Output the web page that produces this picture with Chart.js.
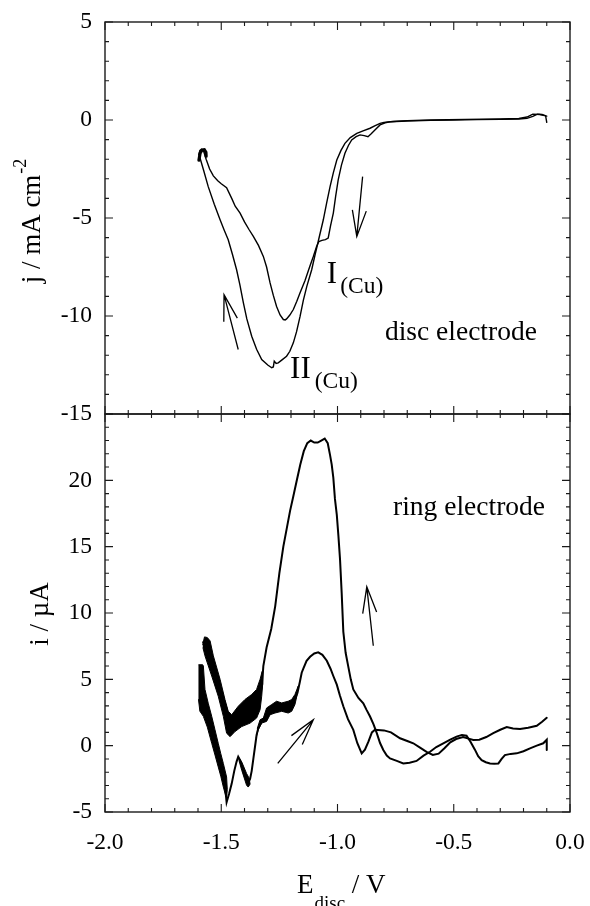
<!DOCTYPE html>
<html>
<head>
<meta charset="utf-8">
<script src="https://cdn.jsdelivr.net/npm/chart.js@4.4.1/dist/chart.umd.min.js"></script>
<style>
  html, body { margin: 0; padding: 0; background: #fff; }
  #wrap { position: relative; width: 590px; height: 906px; overflow: hidden; }
  canvas { position: absolute; left: 0; }
  #disc { top: 0; z-index: 2; }
  #ring { top: 400px; z-index: 1; }
</style>
</head>
<body>
<div id="wrap">
  <canvas id="disc" width="590" height="430"></canvas>
  <canvas id="ring" width="590" height="506"></canvas>
</div>
<script>
// ---- disc electrode, j / mA cm-2 ----
// cathodic sweep, -0.1 V down to -1.6 V
const discCathE = [-0.100, -0.110, -0.130, -0.160, -0.185, -0.220, -0.300, -0.450, -0.600, -0.700, -0.760, -0.800, -0.817, -0.840, -0.860, -0.890, -0.917, -0.945, -0.968, -0.985, -1.003, -1.018, -1.032, -1.047, -1.061, -1.083, -1.097, -1.111, -1.132, -1.147, -1.161, -1.176, -1.190, -1.205, -1.219, -1.240, -1.255, -1.264, -1.272, -1.276, -1.283, -1.300, -1.326, -1.348, -1.369, -1.390, -1.405, -1.420, -1.434, -1.452, -1.470, -1.488, -1.505, -1.530, -1.556, -1.575, -1.591, -1.596];
const discCathJ = [0.20, 0.22, 0.28, 0.30, 0.15, 0.08, 0.05, 0.03, 0.00, -0.03, -0.08, -0.12, -0.17, -0.30, -0.42, -0.55, -0.68, -0.90, -1.19, -1.55, -2.04, -2.70, -3.40, -4.25, -5.09, -6.20, -6.90, -7.64, -8.49, -9.20, -10.02, -10.80, -11.37, -11.80, -12.05, -12.25, -12.39, -12.42, -12.30, -12.60, -12.64, -12.50, -12.22, -11.70, -11.03, -10.15, -9.32, -8.40, -7.64, -6.85, -6.11, -5.60, -5.09, -4.30, -3.40, -2.60, -1.95, -1.75];
// anodic return sweep, -1.6 V back to -0.1 V
const discAnodE = [-1.596, -1.592, -1.585, -1.575, -1.565, -1.550, -1.534, -1.515, -1.500, -1.477, -1.455, -1.440, -1.419, -1.400, -1.380, -1.362, -1.340, -1.319, -1.305, -1.290, -1.276, -1.262, -1.247, -1.233, -1.225, -1.219, -1.205, -1.190, -1.175, -1.161, -1.140, -1.120, -1.104, -1.090, -1.080, -1.067, -1.052, -1.040, -1.030, -1.018, -1.008, -0.997, -0.983, -0.968, -0.953, -0.939, -0.920, -0.903, -0.885, -0.869, -0.855, -0.839, -0.817, -0.795, -0.774, -0.700, -0.600, -0.500, -0.400, -0.300, -0.220, -0.185, -0.160, -0.140, -0.120, -0.105, -0.100];
const discAnodJ = [-1.75, -1.55, -1.50, -1.62, -2.00, -2.50, -2.85, -3.10, -3.25, -3.45, -4.00, -4.40, -4.75, -5.20, -5.60, -5.94, -6.40, -6.96, -7.50, -8.31, -8.95, -9.51, -9.95, -10.18, -10.20, -10.15, -9.95, -9.67, -9.25, -8.82, -8.20, -7.50, -6.96, -6.45, -6.20, -6.14, -6.10, -6.02, -5.40, -4.75, -3.90, -3.05, -2.30, -1.70, -1.30, -1.02, -0.85, -0.76, -0.80, -0.85, -0.70, -0.51, -0.25, -0.14, -0.09, -0.05, -0.02, 0.00, 0.02, 0.03, 0.05, 0.08, 0.18, 0.30, 0.28, 0.22, -0.12];
// turning point at -1.6 V, where both sweeps overlap
const discTurnE = [-1.596, -1.591, -1.583, -1.573, -1.566, -1.565];
const discTurnJ = [-2.05, -1.70, -1.53, -1.52, -1.65, -1.85];

// ---- ring electrode, i / uA ----
// trace with the large peak
const ringAE = [-1.578, -1.562, -1.548, -1.534, -1.519, -1.505, -1.491, -1.477, -1.465, -1.452, -1.441, -1.420, -1.400, -1.380, -1.360, -1.345, -1.333, -1.325, -1.319, -1.305, -1.285, -1.268, -1.250, -1.233, -1.218, -1.204, -1.190, -1.175, -1.160, -1.145, -1.130, -1.115, -1.100, -1.085, -1.070, -1.055, -1.042, -1.032, -1.025, -1.018, -1.011, -1.003, -0.996, -0.989, -0.982, -0.975, -0.965, -0.954, -0.943, -0.932, -0.910, -0.889, -0.875, -0.860, -0.845, -0.831, -0.817, -0.803, -0.788, -0.774, -0.745, -0.717, -0.690, -0.660, -0.630, -0.602, -0.575, -0.545, -0.515, -0.488, -0.465, -0.445, -0.428, -0.409, -0.395, -0.380, -0.362, -0.344, -0.326, -0.308, -0.294, -0.280, -0.255, -0.229, -0.200, -0.172, -0.143, -0.115, -0.100, -0.100];
const ringAI = [7.8, 7.6, 6.9, 6.0, 5.2, 4.4, 3.6, 2.8, 2.0, 1.6, 1.6, 2.0, 2.4, 2.7, 3.0, 3.3, 3.8, 4.5, 6.0, 7.4, 8.8, 10.5, 13.0, 15.0, 16.4, 17.7, 18.8, 20.0, 21.2, 22.2, 22.8, 23.0, 22.85, 22.85, 23.0, 23.15, 22.8, 21.9, 21.2, 20.2, 18.6, 17.4, 15.8, 14.0, 11.5, 8.6, 7.0, 6.0, 5.0, 4.24, 3.6, 3.2, 2.7, 2.2, 1.6, 0.94, 0.2, -0.33, -0.75, -0.96, -1.15, -1.34, -1.28, -1.15, -0.75, -0.46, -0.1, 0.18, 0.45, 0.68, 0.81, 0.75, 0.3, -0.3, -0.8, -1.09, -1.25, -1.34, -1.36, -1.34, -1.0, -0.71, -0.62, -0.58, -0.42, -0.2, 0.0, 0.18, 0.45, -0.33];
// trace with the small peak
const ringBE = [-1.588, -1.575, -1.560, -1.541, -1.527, -1.513, -1.500, -1.491, -1.483, -1.477, -1.466, -1.455, -1.444, -1.434, -1.427, -1.419, -1.412, -1.400, -1.391, -1.384, -1.376, -1.369, -1.362, -1.355, -1.348, -1.341, -1.326, -1.305, -1.283, -1.262, -1.240, -1.212, -1.197, -1.183, -1.172, -1.162, -1.154, -1.147, -1.133, -1.118, -1.100, -1.083, -1.065, -1.046, -1.030, -1.018, -1.003, -0.990, -0.975, -0.955, -0.932, -0.915, -0.896, -0.882, -0.867, -0.852, -0.839, -0.800, -0.770, -0.731, -0.700, -0.674, -0.645, -0.617, -0.590, -0.565, -0.540, -0.515, -0.490, -0.460, -0.440, -0.416, -0.390, -0.360, -0.330, -0.300, -0.272, -0.245, -0.215, -0.180, -0.143, -0.120, -0.100];
const ringBI = [5.5, 3.8, 2.4, 1.2, 0.2, -0.7, -1.6, -2.3, -3.2, -4.26, -3.6, -2.86, -1.9, -1.2, -0.84, -1.1, -1.5, -2.2, -2.6, -2.8, -2.5, -1.9, -1.0, -0.1, 0.8, 1.3, 1.8, 2.3, 2.7, 2.9, 2.9, 2.9, 3.0, 3.5, 4.0, 4.8, 5.5, 5.8, 6.39, 6.7, 6.95, 7.03, 6.85, 6.4, 5.8, 5.25, 4.6, 3.8, 2.97, 2.0, 1.19, 0.2, -0.58, -0.3, 0.3, 1.0, 1.2, 1.15, 1.0, 0.56, 0.35, 0.18, -0.15, -0.46, -0.7, -0.6, -0.2, 0.25, 0.5, 0.65, 0.55, 0.43, 0.45, 0.65, 0.94, 1.2, 1.40, 1.3, 1.25, 1.35, 1.50, 1.8, 2.1];

// noisy stretches of the ring traces, drawn as filled outlines
const bandAE = [-1.580, -1.572, -1.560, -1.548, -1.534, -1.505, -1.484, -1.470, -1.455, -1.427, -1.398, -1.369, -1.348, -1.333, -1.324, -1.322, -1.326, -1.333, -1.348, -1.376, -1.412, -1.441, -1.462, -1.477, -1.491, -1.513, -1.541, -1.570, -1.579];
const bandAI = [7.6, 8.2, 8.15, 7.9, 6.77, 5.0, 3.48, 2.59, 2.33, 2.97, 3.48, 3.86, 4.24, 5.0, 5.6, 4.6, 3.73, 2.71, 2.08, 1.70, 1.44, 1.06, 0.68, 0.94, 2.21, 3.73, 5.25, 6.77, 7.4];
const bandBE = [-1.598, -1.580, -1.577, -1.570, -1.556, -1.541, -1.527, -1.513, -1.502, -1.491, -1.477, -1.474, -1.477, -1.482, -1.491, -1.502, -1.513, -1.527, -1.541, -1.560, -1.577, -1.592, -1.598];
const bandBI = [6.1, 6.1, 6.01, 4.24, 3.2, 2.21, 1.2, 0.18, -0.6, -1.34, -2.36, -3.3, -3.9, -3.7, -3.12, -2.3, -1.60, -0.7, 0.18, 1.4, 2.21, 2.6, 3.5];
const bandWE = [-1.427, -1.412, -1.391, -1.380, -1.376, -1.384, -1.391, -1.412, -1.424];
const bandWI = [-0.84, -1.22, -2.10, -2.45, -2.9, -3.12, -2.99, -1.85, -1.1];
const bandCE = [-1.345, -1.333, -1.319, -1.305, -1.283, -1.262, -1.240, -1.212, -1.197, -1.183, -1.169, -1.175, -1.183, -1.197, -1.212, -1.240, -1.269, -1.290, -1.305, -1.326, -1.341, -1.350];
const bandCI = [1.3, 1.95, 2.08, 2.84, 3.10, 3.35, 3.22, 3.35, 3.48, 3.86, 4.49, 3.73, 3.10, 2.59, 2.46, 2.59, 2.46, 2.33, 1.83, 1.70, 1.19, 0.6];

// axis ticks
const eTicks = [-2.0, -1.5, -1.0, -0.5, 0.0];
const jTicks = [-15, -10, -5, 0, 5];
const iTicks = [-5, 0, 5, 10, 15, 20];

// sweep direction arrows: [E tail, y tail, E head, y head]
const discArrows = [[-0.892, -2.89, -0.917, -5.94], [-1.427, -11.71, -1.488, -8.91]];
const ringArrows = [[-0.846, 7.53, -0.874, 11.97], [-1.257, -1.34, -1.104, 1.95]];

const FONT = '"Liberation Serif", "Times New Roman", serif';

const pts = (xs, ys) => xs.map((x, k) => ({ x, y: ys[k] }));
const trace = (xs, ys, w) => ({ data: pts(xs, ys), borderColor: '#000', borderWidth: w, borderCapStyle: 'round', pointRadius: 0, tension: 0, fill: false });
const blot = (xs, ys) => ({ data: pts(xs, ys), borderColor: '#000', backgroundColor: '#000', borderWidth: 1, pointRadius: 0, tension: 0, fill: 'shape' });

// text in runs, so sub/superscripts can be shifted and resized
function richText(ctx, x, y, parts) {
  let cx = x;
  parts.forEach(p => {
    ctx.font = `${p.size}px ${FONT}`;
    cx += p.dx || 0;
    ctx.fillText(p.t, cx, y + (p.dy || 0));
    cx += ctx.measureText(p.t).width;
  });
  return cx - x;
}
function richWidth(ctx, parts) {
  let w = 0;
  parts.forEach(p => { ctx.font = `${p.size}px ${FONT}`; w += (p.dx || 0) + ctx.measureText(p.t).width; });
  return w;
}

function arrow(ctx, x0, y0, x1, y1) {
  const a = Math.atan2(y1 - y0, x1 - x0), L = 27, h = 15 * Math.PI / 180;
  ctx.beginPath();
  ctx.moveTo(x0, y0); ctx.lineTo(x1, y1);
  ctx.moveTo(x1 - L * Math.cos(a - h), y1 - L * Math.sin(a - h));
  ctx.lineTo(x1, y1);
  ctx.lineTo(x1 - L * Math.cos(a + h), y1 - L * Math.sin(a + h));
  ctx.stroke();
}

// frame, inward minor/major ticks, arrows, notes and axis titles
const panelDecor = {
  id: 'panelDecor',
  afterDraw(chart, args, o) {
    const { ctx, chartArea: a, scales: { x, y } } = chart;
    ctx.save();
    ctx.strokeStyle = '#1a1a1a';
    ctx.lineWidth = 1.4;
    ctx.strokeRect(a.left, a.top, a.right - a.left, a.bottom - a.top);

    ctx.lineWidth = 1.1;
    ctx.beginPath();
    for (let k = Math.round(x.min * 10); k <= Math.round(x.max * 10); k++) {
      const px = x.getPixelForValue(k / 10), len = k % 5 === 0 ? 8 : 4;
      ctx.moveTo(px, a.top); ctx.lineTo(px, a.top + len);
      ctx.moveTo(px, a.bottom); ctx.lineTo(px, a.bottom - len);
    }
    for (let v = y.min; v <= y.max; v++) {
      const py = y.getPixelForValue(v), len = v % 5 === 0 ? 8 : 4;
      ctx.moveTo(a.left, py); ctx.lineTo(a.left + len, py);
      ctx.moveTo(a.right, py); ctx.lineTo(a.right - len, py);
    }
    ctx.stroke();

    ctx.strokeStyle = '#000';
    ctx.lineWidth = 1.3;
    (o.arrows || []).forEach(([e0, v0, e1, v1]) =>
      arrow(ctx, x.getPixelForValue(e0), y.getPixelForValue(v0), x.getPixelForValue(e1), y.getPixelForValue(v1)));

    ctx.fillStyle = '#000';
    ctx.textBaseline = 'alphabetic';
    ctx.textAlign = 'left';
    (o.notes || []).forEach(n => richText(ctx, x.getPixelForValue(n.e), y.getPixelForValue(n.v), n.parts));

    if (o.yTitle) {
      const t = o.yTitle;
      ctx.save();
      ctx.translate(t.x, t.y);
      ctx.rotate(-Math.PI / 2);
      richText(ctx, -richWidth(ctx, t.parts) / 2, 0, t.parts);
      ctx.restore();
    }
    if (o.xTitle) richText(ctx, o.xTitle.x, o.xTitle.y, o.xTitle.parts);
    ctx.restore();
  }
};

// fixed box sizes so both plot frames line up exactly
const noPad = s => { s.paddingTop = 0; s.paddingBottom = 0; s.paddingLeft = 0; s.paddingRight = 0; };
const tickFont = { family: 'Liberation Serif', size: 23.5 };
const noGrid = { display: false, drawTicks: false };
const base = {
  animation: false,
  responsive: false,
  devicePixelRatio: 1,
  events: [],
};

new Chart(document.getElementById('disc'), {
  type: 'line',
  data: {
    datasets: [
      trace(discCathE, discCathJ, 1.4), trace(discAnodE, discAnodJ, 1.4),
      trace(discTurnE, discTurnJ, 3.2)
    ]
  },
  options: {
    ...base,
    layout: { padding: { top: 22, right: 20, bottom: 16, left: 0 } },
    plugins: {
      legend: { display: false },
      tooltip: { enabled: false },
      panelDecor: {
        arrows: discArrows,
        notes: [
          { e: -1.046, v: -8.30, parts: [{ t: 'I', size: 31 }, { t: '(Cu)', size: 23.5, dy: 10, dx: 3 }] },
          { e: -1.204, v: -13.14, parts: [{ t: 'II', size: 31 }, { t: '(Cu)', size: 23.5, dy: 10, dx: 4 }] },
          { e: -0.796, v: -11.20, parts: [{ t: 'disc electrode', size: 27.5 }] }
        ],
        yTitle: { x: 40, y: 221, parts: [{ t: 'j / mA cm', size: 27 }, { t: '-2', size: 18, dy: -14, dx: 1 }] }
      }
    },
    scales: {
      x: { type: 'linear', display: false, min: -2, max: 0 },
      y: {
        type: 'linear', min: -15, max: 5,
        afterBuildTicks: s => { s.ticks = jTicks.map(v => ({ value: v })); },
        afterFit: s => { s.width = 105; noPad(s); },
        grid: noGrid,
        border: { display: false },
        ticks: { font: tickFont, color: '#000', padding: 13 }
      }
    }
  },
  plugins: [panelDecor]
});

new Chart(document.getElementById('ring'), {
  type: 'line',
  data: {
    datasets: [
      trace(ringAE, ringAI, 2), trace(ringBE, ringBI, 2),
      blot(bandAE, bandAI), blot(bandBE, bandBI), blot(bandWE, bandWI), blot(bandCE, bandCI)
    ]
  },
  options: {
    ...base,
    layout: { padding: { top: 14, right: 20, bottom: 0, left: 0 } },
    plugins: {
      legend: { display: false },
      tooltip: { enabled: false },
      panelDecor: {
        arrows: ringArrows,
        notes: [{ e: -0.761, v: 17.41, parts: [{ t: 'ring electrode', size: 27.5 }] }],
        yTitle: { x: 48, y: 214, parts: [{ t: 'i / µA', size: 27 }] },
        xTitle: { x: 297, y: 493, parts: [{ t: 'E', size: 27 }, { t: 'disc', size: 19, dy: 16, dx: 1 }, { t: ' / V', size: 27 }] }
      }
    },
    scales: {
      x: {
        type: 'linear', min: -2, max: 0,
        afterBuildTicks: s => { s.ticks = eTicks.map(v => ({ value: v })); },
        afterFit: s => { s.height = 94; noPad(s); },
        grid: noGrid,
        border: { display: false },
        ticks: { font: tickFont, color: '#000', padding: 17, autoSkip: false, maxRotation: 0, callback: v => v.toFixed(1) }
      },
      y: {
        type: 'linear', min: -5, max: 25,
        afterBuildTicks: s => { s.ticks = iTicks.map(v => ({ value: v })); },
        afterFit: s => { s.width = 105; noPad(s); },
        grid: noGrid,
        border: { display: false },
        ticks: { font: tickFont, color: '#000', padding: 13 }
      }
    }
  },
  plugins: [panelDecor]
});
</script>
</body>
</html>
